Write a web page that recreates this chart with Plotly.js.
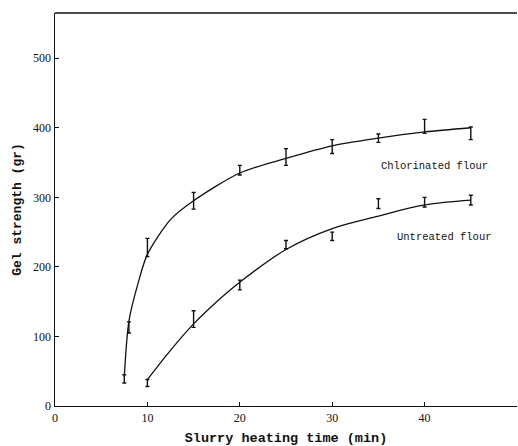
<!DOCTYPE html>
<html>
<head>
<meta charset="utf-8">
<script src="https://cdn.plot.ly/plotly-3.0.1.min.js"></script>
<style>html,body{margin:0;padding:0;background:#fff;}#chart{width:518px;height:446px;}</style>
</head>
<body>
<div id="chart"></div>
<script>
// Measured points (mean with error bars)
const chlorTime = [7.5, 8, 10, 15, 20, 25, 30, 35, 40, 45];
const chlorMean = [39, 113, 228, 295, 339, 358, 373, 385, 400, 392];
const chlorErrUp = [6, 8, 13, 12, 7, 12, 10, 6, 12, 9];
const chlorErrDown = [6, 8, 13, 12, 7, 12, 10, 6, 8, 9];

const untrTime = [10, 15, 20, 25, 30, 35, 40, 45];
const untrMean = [33, 125, 174, 232, 244, 291, 293, 296];
const untrErrUp = [5, 12, 7, 6, 6, 7, 7, 7];
const untrErrDown = [5, 12, 7, 6, 6, 7, 7, 7];

// Smooth drawn curves
const chlorCurveTime = [7.5, 8, 9, 10, 12.5, 15, 20, 25, 30, 35, 40, 45];
const chlorCurveVal = [42, 122, 177, 218, 268, 295, 335, 356, 374, 385, 394, 400];
const untrCurveTime = [10, 12.5, 15, 17.5, 20, 25, 30, 35, 40, 45];
const untrCurveVal = [38, 80, 118, 150, 178, 225, 255, 273, 289, 296];

const xTicks = [0, 10, 20, 30, 40];
const yTicks = [0, 100, 200, 300, 400, 500];

const labels = ["Chlorinated flour", "Untreated flour"];
const labelPos = {x: [41.1, 42.1], y: [345, 243]};

const ink = '#111';
const errStyle = (up, down) => ({type: 'data', symmetric: false, array: up, arrayminus: down,
  color: ink, thickness: 1.4, width: 2});

const traces = [
  {x: chlorCurveTime, y: chlorCurveVal, mode: 'lines', line: {color: ink, width: 1.3, shape: 'spline', smoothing: 0.8}, hoverinfo: 'skip'},
  {x: untrCurveTime, y: untrCurveVal, mode: 'lines', line: {color: ink, width: 1.3, shape: 'spline'}, hoverinfo: 'skip'},
  {x: chlorTime, y: chlorMean, mode: 'markers', marker: {size: 1, color: 'rgba(0,0,0,0)'},
   error_y: errStyle(chlorErrUp, chlorErrDown)},
  {x: untrTime, y: untrMean, mode: 'markers', marker: {size: 1, color: 'rgba(0,0,0,0)'},
   error_y: errStyle(untrErrUp, untrErrDown)}
];

const monoBold = 'Liberation Mono, DejaVu Sans Mono, monospace';

const layout = {
  width: 518, height: 446,
  margin: {l: 55, r: 1, t: 13, b: 40},
  paper_bgcolor: '#fff', plot_bgcolor: '#fff',
  showlegend: false,
  xaxis: {
    range: [0, 50], tickvals: xTicks, ticktext: xTicks.map(String),
    ticks: 'inside', ticklen: 4, tickcolor: ink, tickwidth: 1,
    showline: true, linecolor: ink, linewidth: 1.3, showgrid: false, zeroline: false,
    tickfont: {family: 'Liberation Serif, DejaVu Serif, serif', size: 12, color: ink},
    title: {text: '<b>Slurry heating time (min)</b>', standoff: 10,
      font: {family: monoBold, size: 13.5, color: ink}}
  },
  yaxis: {
    range: [0, 565], tickvals: yTicks, ticktext: yTicks.map(String),
    ticks: 'inside', ticklen: 4, tickcolor: ink, tickwidth: 1,
    showline: true, linecolor: ink, linewidth: 1.5, showgrid: false, zeroline: false,
    tickfont: {family: 'Liberation Serif, DejaVu Serif, serif', size: 12, color: ink},
    title: {text: '<b>Gel strength (gr)</b>', standoff: 8,
      font: {family: monoBold, size: 13, color: ink}}
  },
  shapes: [
    {type: 'line', xref: 'paper', yref: 'paper', x0: 0, x1: 1, y0: 1, y1: 1,
     line: {color: ink, width: 1.3}}
  ],
  annotations: labels.map((t, i) => ({
    text: t, x: labelPos.x[i], y: labelPos.y[i], xref: 'x', yref: 'y',
    showarrow: false, font: {family: monoBold, size: 10.5, color: ink}
  }))
};

Plotly.newPlot('chart', traces, layout, {staticPlot: true, displayModeBar: false});
</script>
</body>
</html>
